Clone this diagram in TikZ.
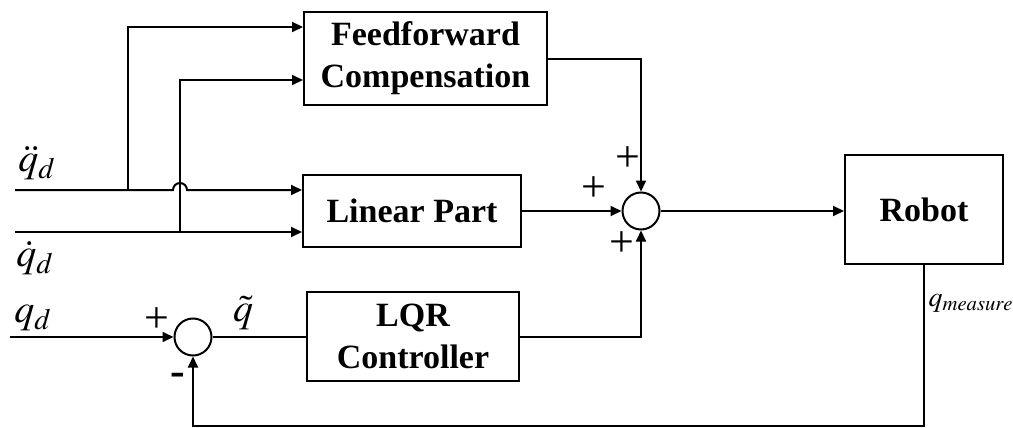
\documentclass[tikz,border=0pt]{standalone}
\usepackage{mathptmx}
\usepackage{fontspec}
\setmainfont{Liberation Serif}
\usetikzlibrary{arrows.meta}

\tikzset{
  blk/.style={draw,line width=1pt,align=center,inner sep=0pt,
    font=\bfseries\fontsize{17}{21}\selectfont},
  sumc/.style={draw,circle,line width=1pt,minimum size=18.5pt,inner sep=0pt},
  wire/.style={line width=1pt},
  pm/.style={font=\fontsize{22}{24}\selectfont,inner sep=0pt},
  sig/.style={font=\fontsize{20}{22}\selectfont,inner sep=0pt},
}

\begin{document}
\begin{tikzpicture}[x=0.5pt,y=-0.5pt,>={Triangle[length=5.5pt,width=5pt]}]
  \useasboundingbox (0,0) rectangle (1013,428);

  % blocks
  \node[blk,minimum width=121.5pt,minimum height=46.5pt] (ff) at (425.5,58.5) {Feedforward\\Compensation};
  \node[blk,minimum width=109pt,minimum height=36pt] (lin) at (412,211) {Linear Part};
  \node[blk,minimum width=106pt,minimum height=44.5pt] (lqr) at (413,336) {LQR\\Controller};
  \node[blk,minimum width=79pt,minimum height=54.5pt] (robot) at (924,209.5) {Robot};
  \node[sumc] (sum1) at (641,211) {};
  \node[sumc] (sum2) at (193,337) {};

  % inputs and branch points
  \coordinate (qddin) at (15,190);
  \coordinate (qdin) at (15,232);
  \coordinate (qin) at (10,337);
  \coordinate (b1) at (128,190);
  \coordinate (b2) at (180,232);
  \coordinate (hop) at (173,190);
  \coordinate (fb) at (924,426);

  % connectors
  \draw[wire,->] (qddin) -- (hop) arc[start angle=180,end angle=0,radius=3.5pt] -- (lin.west |- qddin);
  \draw[wire,->] (qdin) -- (lin.west |- qdin);
  \draw[wire,->] (b1) |- ([yshift=15.75pt]ff.west);
  \draw[wire,->] (b2) |- ([yshift=-10.75pt]ff.west);
  \draw[wire,->] (ff.east) -| (sum1.north);
  \draw[wire,->] (lin.east) -- (sum1.west);
  \draw[wire,->] (lqr.east |- sum2.east) -| (sum1.south);
  \draw[wire,->] (sum1.east) -- (robot.west |- sum1.east);
  \draw[wire,->] (robot.south) -- (fb) -| (sum2.south);
  \draw[wire,->] (qin) -- (sum2.west);
  \draw[wire] (sum2.east) -- (lqr.west |- sum2.east);

  % labels
  \node[sig] (lqdd) at (37,163) {$\ddot{q}_d$};
  \node[sig] (lqd) at (35,258) {$\dot{q}_d$};
  \node[sig] (lq) at (33,318) {$q_d$};
  \node[sig] (lqt) at (243,313) {$\tilde{q}$};
  \node[font=\fontsize{14}{16}\selectfont,inner sep=0pt] (lqm) at (971,303) {$q_{measure}$};
  \node[pm] (p1) at (628,159) {+};
  \node[pm] (p2) at (594,189) {+};
  \node[pm] (p3) at (622,244) {+};
  \node[pm] (p4) at (157,320) {+};
  \node[pm] (m1) at (178,379) {\textbf{-}};
\end{tikzpicture}
\end{document}
